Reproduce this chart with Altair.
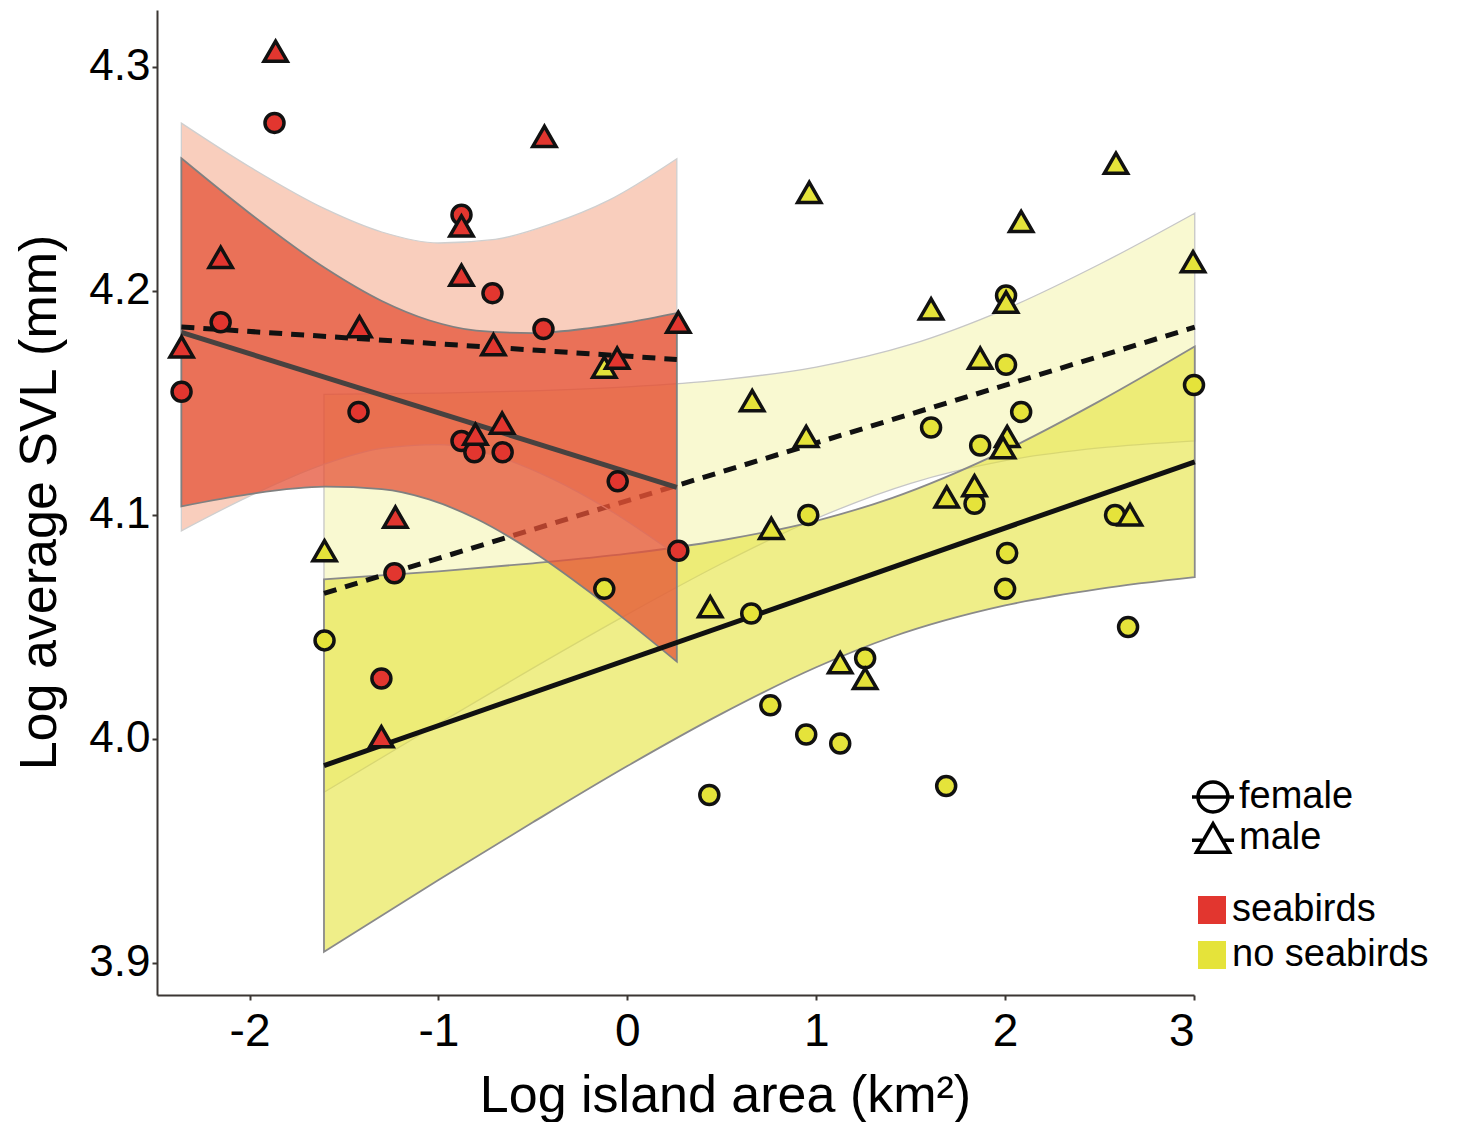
import altair as alt
import pandas as pd

RED = "#e2362f"
YELLOW = "#e5e33a"
FONT = "Liberation Sans"

# ---- observations (read from the figure) ----
# seabird islands, females (circles)
sf_x = [-1.868, -0.878, -0.714, -0.444, -2.153, -2.360, -1.423, -0.878, -0.810, -0.660, -0.051, 0.270, -1.233, -1.302]
sf_y = [4.275, 4.234, 4.199, 4.183, 4.186, 4.155, 4.146, 4.133, 4.128, 4.128, 4.115, 4.084, 4.074, 4.027]
# no-seabird islands, females (circles)
nf_x = [2.005, 2.005, 3.000, 1.608, 2.085, 1.868, 0.958, 1.838, 2.582, 2.011, 2.000, 0.656, -1.603, 2.651,
        1.259, 0.757, 0.947, 1.127, 0.434, 1.688, -0.122]
nf_y = [4.198, 4.167, 4.158, 4.139, 4.146, 4.131, 4.100, 4.105, 4.100, 4.083, 4.067, 4.056, 4.044, 4.050,
        4.036, 4.015, 4.002, 3.998, 3.975, 3.979, 4.067]
# seabird islands, males (triangles)
sm_x = [-1.862, -0.439, -0.878, -0.878, -2.153, -1.418, -2.360, 0.270, -0.709, -0.054, -0.663, -0.804, -1.228, -1.302]
sm_y = [4.307, 4.269, 4.229, 4.207, 4.215, 4.184, 4.175, 4.186, 4.176, 4.170, 4.141, 4.136, 4.099, 4.001]
# no-seabird islands, males (triangles)
nm_x = [2.587, 0.963, 2.085, 2.995, 1.608, 2.005, 1.868, -0.122, 0.661, 0.947, 2.011, 1.989, 1.691, 1.838,
        2.661, 0.762, -1.603, 0.439, 1.127, 1.259]
nm_y = [4.257, 4.244, 4.231, 4.213, 4.192, 4.195, 4.170, 4.166, 4.151, 4.135, 4.135, 4.130, 4.108, 4.113,
        4.100, 4.094, 4.084, 4.059, 4.034, 4.027]

# ---- fitted lines (end points) ----
sfl_x, sfl_y = [-2.361, 0.262], [4.1815, 4.1123]
sml_x, sml_y = [-2.361, 0.262], [4.1839, 4.1694]
nfl_x, nfl_y = [-1.606, 3.004], [3.9881, 4.1237]
nml_x, nml_y = [-1.606, 3.004], [4.0650, 4.1838]

# ---- confidence bands ----
sfb_x = [-2.361, -2.0, -1.6, -1.3, -1.05, -0.8, -0.5, -0.2, 0.0, 0.262]
sfb_lo = [4.1038, 4.1093, 4.1126, 4.1115, 4.1069, 4.0983, 4.0836, 4.0656, 4.0525, 4.0345]
sfb_hi = [4.2592, 4.2347, 4.2102, 4.1955, 4.1869, 4.1823, 4.1812, 4.1834, 4.1859, 4.1901]

smb_x = [-2.361, -2.0, -1.6, -1.3, -1.0, -0.7, -0.4, -0.1, 0.262]
smb_lo = [4.0929, 4.1084, 4.1228, 4.1297, 4.1314, 4.1264, 4.1162, 4.1024, 4.0820]
smb_hi = [4.2749, 4.2554, 4.2366, 4.2263, 4.2214, 4.2230, 4.2300, 4.2404, 4.2590]

nfb_x = [-1.606, -1.0, -0.5, 0.0, 0.5, 1.0, 1.4, 2.0, 2.5, 3.004]
nfb_lo = [3.9050, 3.9370, 3.9628, 3.9879, 4.0113, 4.0320, 4.0455, 4.0596, 4.0670, 4.0722]
nfb_hi = [4.0712, 4.0748, 4.0784, 4.0827, 4.0887, 4.0974, 4.1075, 4.1288, 4.1508, 4.1752]

nmb_x = [-1.606, -1.0, -0.5, 0.0, 0.5, 1.0, 1.5, 2.0, 2.5, 3.004]
nmb_lo = [3.9762, 4.0068, 4.0316, 4.0556, 4.0783, 4.0984, 4.1141, 4.1242, 4.1299, 4.1331]
nmb_hi = [4.1538, 4.1544, 4.1554, 4.1572, 4.1603, 4.1660, 4.1761, 4.1918, 4.2119, 4.2347]

x_ticks = [-2, -1, 0, 1, 2, 3]
y_ticks = [3.9, 4.0, 4.1, 4.2, 4.3]
sex_levels = ["female", "male"]
group_levels = ["seabirds", "no seabirds"]

PATH_F = "M-1.4,0H1.4M1,0A1,1,0,1,1,-1,0A1,1,0,1,1,1,0Z"
PATH_M = "M0,-0.95L1.1,0.95H-1.1ZM-1.4,0.15H-0.55M0.55,0.15H1.4"

xscale = alt.Scale(domain=[-2.49, 3.0], nice=False, zero=False)
yscale = alt.Scale(domain=[3.8857, 4.3254], nice=False, zero=False)

x_axis = alt.Axis(values=x_ticks, labelExpr="'' + datum.value", title="Log island area (km²)",
                  labelFontSize=46, labelPadding=9, titleX=568, titleY=116,
                  titleBaseline="alphabetic", titleAlign="center")
y_axis = alt.Axis(values=y_ticks, format=".1f", title="Log average SVL (mm)",
                  labelFontSize=44, titleAngle=270, titleX=-102, titleY=492,
                  titleBaseline="alphabetic", titleAlign="center")


def X(field):
    return alt.X(field, type="quantitative", scale=xscale, axis=x_axis, title="Log island area (km²)")


def Y(field):
    return alt.Y(field, type="quantitative", scale=yscale, axis=y_axis, title="Log average SVL (mm)")


def band(xs, lo, hi, fill, opacity, stroke, sw):
    df = pd.DataFrame({"x": xs, "lo": lo, "hi": hi})
    return alt.Chart(df).mark_area(fill=fill, fillOpacity=opacity, stroke=stroke, strokeWidth=sw,
                                   interpolate="monotone").encode(x=X("x"), y=Y("lo"), y2="hi")


def line(xs, ys, color, width, dash=None):
    df = pd.DataFrame({"x": xs, "y": ys})
    kw = dict(color=color, strokeWidth=width)
    if dash:
        kw["strokeDash"] = dash
    return alt.Chart(df).mark_line(**kw).encode(x=X("x"), y=Y("y"))


fill_legend = alt.Legend(title=None, orient="none", legendX=1036, legendY=881, symbolType="square",
                         symbolSize=784, symbolStrokeWidth=0, symbolOpacity=1, labelFontSize=38,
                         labelOffset=1, rowPadding=7, labelLimit=400, labelFont=FONT, labelColor="black")
fill_enc = alt.Fill("group:N", scale=alt.Scale(domain=group_levels, range=[RED, YELLOW]), legend=fill_legend)

circles = pd.concat([
    pd.DataFrame({"x": sf_x, "y": sf_y, "group": "seabirds"}),
    pd.DataFrame({"x": nf_x, "y": nf_y, "group": "no seabirds"}),
], ignore_index=True)
triangles = pd.concat([
    pd.DataFrame({"x": nm_x, "y": nm_y, "group": "no seabirds"}),
    pd.DataFrame({"x": sm_x, "y": sm_y, "group": "seabirds"}),
], ignore_index=True)

circle_layer = alt.Chart(circles).mark_point(shape="circle", size=361, filled=True, stroke="#111111",
                                             strokeWidth=3.5, opacity=1).encode(x=X("x"), y=Y("y"), fill=fill_enc)
tri_layer = alt.Chart(triangles).mark_point(shape="triangle-up", size=540, filled=True, stroke="#111111",
                                            strokeWidth=3.5, opacity=1).encode(x=X("x"), y=Y("y"), fill=fill_enc)

# legend for sex (line + symbol glyphs); its single point lies outside the domain and is clipped
leg_df = pd.DataFrame({"x": [-10.0, -10.0], "y": [4.0, 4.0], "sex": sex_levels})
shape_legend = alt.Legend(title=None, orient="none", legendX=1037, legendY=768, symbolSize=900,
                          symbolStrokeWidth=3.5, symbolStrokeColor="black", symbolFillColor="transparent",
                          symbolOpacity=1, labelFontSize=38, labelOffset=7, rowPadding=-3, labelLimit=400,
                          labelFont=FONT, labelColor="black")
legend_layer = alt.Chart(leg_df).mark_point(clip=True, filled=False, color="black", opacity=1).encode(
    x=X("x"), y=Y("y"),
    shape=alt.Shape("sex:N", scale=alt.Scale(domain=sex_levels, range=[PATH_F, PATH_M]), legend=shape_legend),
)

chart = alt.layer(
    band(nmb_x, nmb_lo, nmb_hi, YELLOW, 0.23, "#c6c6c6", 1.3),
    band(nfb_x, nfb_lo, nfb_hi, YELLOW, 0.6, "#8a8a8a", 1.8),
    line(nml_x, nml_y, "#111111", 5, [13, 9]),
    band(smb_x, smb_lo, smb_hi, "#eb5c26", 0.3, "#cfcfcf", 1.3),
    band(sfb_x, sfb_lo, sfb_hi, "#e45237", 0.75, "#808080", 1.8),
    line(sfl_x, sfl_y, "#474240", 5),
    line(sml_x, sml_y, "#111111", 5, [13, 9]),
    line(nfl_x, nfl_y, "#111111", 5),
    legend_layer,
    circle_layer,
    tri_layer,
).properties(
    width=1037, height=985,
    autosize=alt.AutoSizeParams(type="none"),
    padding={"left": 149, "top": 2, "right": 252, "bottom": 127},
    background="white",
).configure_view(stroke="transparent").configure_axis(
    grid=False, domainColor="#3b3633", domainWidth=2, tickColor="#3b3633", tickWidth=2, tickSize=5,
    labelFont=FONT, labelColor="black", titleFont=FONT, titleFontSize=52, titleFontWeight="normal",
    titleColor="black",
).configure_legend(labelFont=FONT, padding=0)

chart.save("out.html", embed_options={"renderer": "svg", "actions": False})
